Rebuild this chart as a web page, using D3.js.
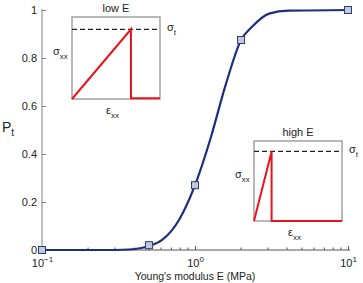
<!DOCTYPE html>
<html>
<head>
<meta charset="utf-8">
<script src="https://cdn.jsdelivr.net/npm/d3@7"></script>
<style>
  body { margin: 0; background: #fff; }
  text { font-family: "Liberation Sans", Arial, sans-serif; fill: #222; }
</style>
</head>
<body>
<div id="chart"></div>
<script>
// curve (E in MPa, P_t)
var curveE = [0.1, 0.3, 0.37, 0.5, 0.61, 0.786, 1, 1.175, 1.27, 1.59, 2, 2.36, 3.05, 4.1, 10];
var curveP = [0, 0, 0.002, 0.017, 0.042, 0.125, 0.27, 0.40, 0.47, 0.69, 0.875, 0.93, 0.985, 0.997, 1];

// simulated points (squares)
var markerE = [0.1, 0.5, 1, 2, 10];
var markerP = [0, 0.02, 0.27, 0.875, 1];

var yTicks = [0, 0.2, 0.4, 0.6, 0.8, 1];
var xTicks = [0.1, 1, 10];
var xTickExp = ["\u22121", "0", "1"];

// inset stress-strain sketches, normalised units
var lowStrain = [0, 0.67, 0.67, 1];
var lowStress = [0, 0.85, 0.01, 0.01];
var highStrain = [0, 0.2, 0.2, 1];
var highStress = [0, 0.87, 0, 0];

var W = 363, H = 283;
var margin = {top: 10, right: 14, bottom: 33, left: 42};

var svg = d3.select("#chart").append("svg")
    .attr("width", W)
    .attr("height", H);

var g = svg.append("g")
    .attr("transform", "translate(" + margin.left + "," + margin.top + ")");

var x = d3.scaleLog().domain([0.1, 10]).range([0, 306]);
var y = d3.scaleLinear().domain([0, 1]).range([240, 0]);

// y axis
var yAxis = g.append("g")
    .call(d3.axisLeft(y).tickValues(yTicks).tickSizeInner(-4).tickSizeOuter(0).tickPadding(5)
        .tickFormat(function(d) { return d === 0 ? "0" : d3.format("")(d); }));
yAxis.select(".domain").attr("stroke", "#808080").attr("d", "M0,240V-1");
yAxis.selectAll(".tick line").attr("stroke", "#808080");
yAxis.selectAll("text").style("font-size", "11px").attr("fill", "#222");

// x axis
var xAxis = g.append("g")
    .attr("transform", "translate(0,240)")
    .call(d3.axisBottom(x).tickValues(xTicks).tickSizeInner(-4).tickSizeOuter(0).tickPadding(6)
        .tickFormat(""));
xAxis.select(".domain").attr("stroke", "#555").attr("d", "M0,0H308");
xAxis.selectAll(".tick line").attr("stroke", "#555");
xAxis.selectAll(".tick text").each(function(d, i) {
    var t = d3.select(this).style("font-size", "11px").attr("y", 9);
    t.append("tspan").text("10");
    t.append("tspan").attr("dy", -5).style("font-size", "8px").text(xTickExp[i]);
});

var minor = [];
[0.1, 1].forEach(function(dec) {
    for (var k = 2; k <= 9; k++) minor.push(dec * k);
});
xAxis.selectAll(".minor")
    .data(minor)
    .enter().append("line")
        .attr("class", "minor")
        .attr("x1", function(d) { return x(d); })
        .attr("x2", function(d) { return x(d); })
        .attr("y1", 0)
        .attr("y2", -2.5)
        .attr("stroke", "#555");

// axis labels
svg.append("text")
    .attr("x", 195)
    .attr("y", 280)
    .attr("text-anchor", "middle")
    .style("font-size", "10.5px")
    .text("Young's modulus E (MPa)");

var pl = svg.append("text")
    .attr("x", 2)
    .attr("y", 132)
    .style("font-size", "14px");
pl.append("tspan").text("P");
pl.append("tspan").attr("dy", 4).style("font-size", "10px").text("t");

// curve
var pts = curveE.map(function(e, i) { return [x(e), y(curveP[i])]; });
g.append("path")
    .datum(pts)
    .attr("fill", "none")
    .attr("stroke", "#1b2f7e")
    .attr("stroke-width", 2.2)
    .attr("d", d3.line().curve(d3.curveMonotoneX));

g.selectAll(".marker")
    .data(markerE)
    .enter().append("rect")
        .attr("class", "marker")
        .attr("x", function(d) { return x(d) - 3.5; })
        .attr("y", function(d, i) { return y(markerP[i]) - 3.5; })
        .attr("width", 7)
        .attr("height", 7)
        .attr("fill", "#c3c8df")
        .attr("stroke", "#2e3b6e")
        .attr("stroke-width", 1);

// insets
function inset(box, strain, stress, peak, title) {
    var ix = d3.scaleLinear().domain([0, 1]).range([box.x, box.x + box.w]);
    var iy = d3.scaleLinear().domain([0, 1]).range([box.y + box.h, box.y]);
    var ig = svg.append("g");

    ig.append("rect")
        .attr("x", box.x).attr("y", box.y)
        .attr("width", box.w).attr("height", box.h)
        .attr("fill", "#fff")
        .attr("stroke", "#8a8a8a")
        .attr("stroke-width", 1.2);

    ig.append("line")
        .attr("x1", ix(0)).attr("x2", ix(1))
        .attr("y1", iy(peak)).attr("y2", iy(peak))
        .attr("stroke", "#222")
        .attr("stroke-width", 1.3)
        .attr("stroke-dasharray", "5,3");

    ig.append("path")
        .datum(strain.map(function(s, i) { return [ix(s), iy(stress[i])]; }))
        .attr("fill", "none")
        .attr("stroke", "#e8141b")
        .attr("stroke-width", 2)
        .attr("d", d3.line());

    ig.append("text")
        .attr("x", box.x + box.w / 2)
        .attr("y", box.y - 5)
        .attr("text-anchor", "middle")
        .style("font-size", "11px")
        .text(title);

    var s1 = ig.append("text")
        .attr("x", box.x - 19)
        .attr("y", box.y + box.h * 0.46)
        .style("font-size", "11px");
    s1.append("tspan").text("\u03c3");
    s1.append("tspan").attr("dy", 4).style("font-size", "8px").text("xx");

    var s2 = ig.append("text")
        .attr("x", box.x + box.w / 2 - 10)
        .attr("y", box.y + box.h + 15)
        .style("font-size", "11px");
    s2.append("tspan").text("\u03b5");
    s2.append("tspan").attr("dy", 4).style("font-size", "8px").text("xx");

    var s3 = ig.append("text")
        .attr("x", box.x + box.w + 7)
        .attr("y", iy(peak) + 2)
        .style("font-size", "11px");
    s3.append("tspan").text("\u03c3");
    s3.append("tspan").attr("dy", 4).style("font-size", "8px").text("t");
}

inset({x: 72, y: 17, w: 88, h: 82}, lowStrain, lowStress, 0.85, "low E");
inset({x: 254, y: 141, w: 88, h: 80}, highStrain, highStress, 0.87, "high E");
</script>
</body>
</html>
